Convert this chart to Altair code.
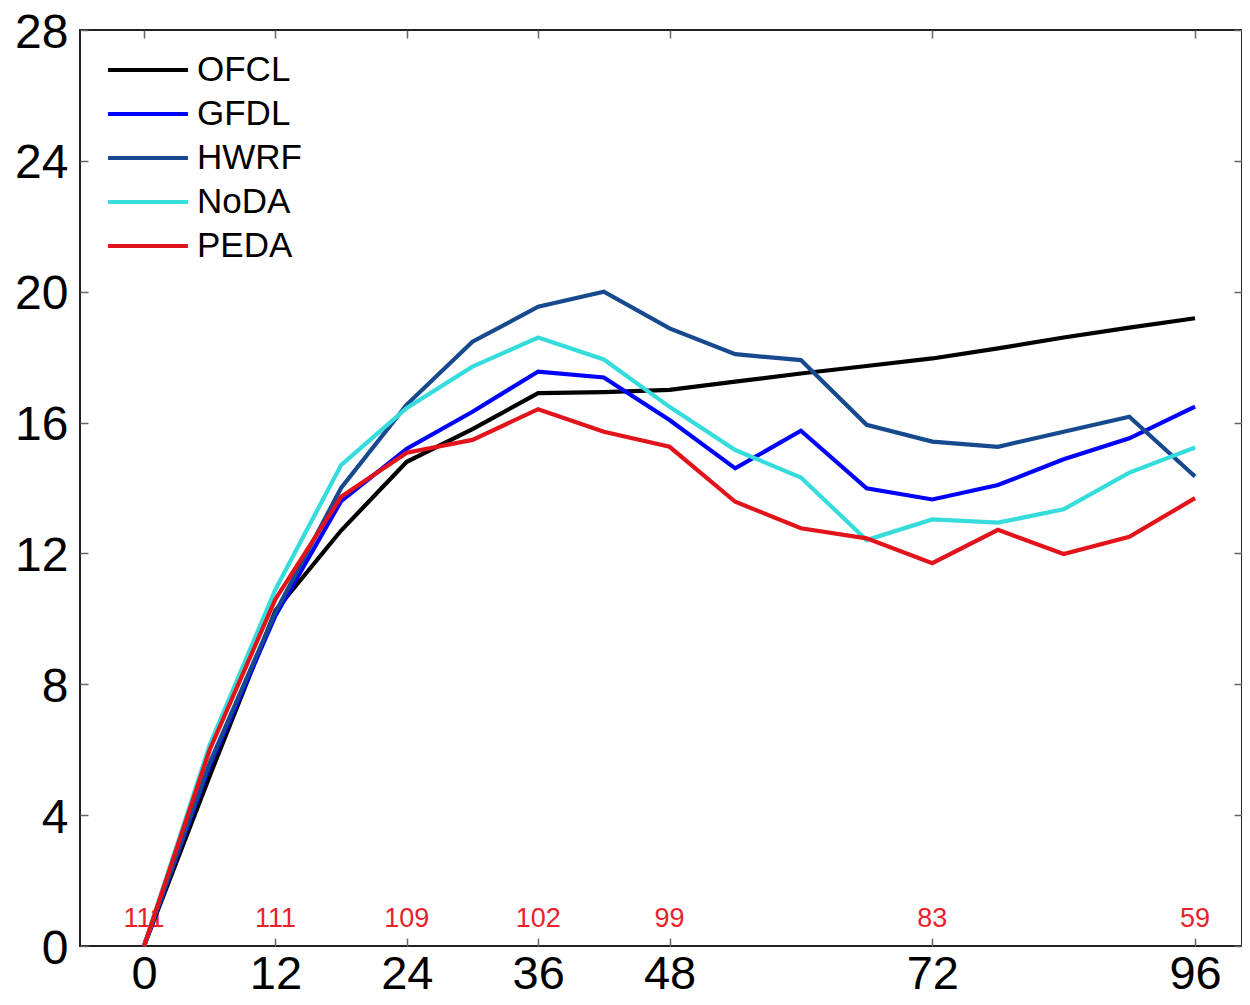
import altair as alt
import pandas as pd

# ---- data ----
hours = [0, 6, 12, 18, 24, 30, 36, 42, 48, 54, 60, 66, 72, 78, 84, 90, 96]
series_names = ["OFCL", "GFDL", "HWRF", "NoDA", "PEDA"]
series_colors = ["#000000", "#0000ff", "#17498f", "#36dcdc", "#e2131b"]

ofcl = [0, 5.2, 10.25, 12.7, 14.8, 15.8, 16.9, 16.93, 17.0, 17.25, 17.5, 17.73, 17.96, 18.27, 18.6, 18.9, 19.19]
gfdl = [0, 5.5, 10.1, 13.6, 15.2, 16.33, 17.56, 17.38, 16.08, 14.6, 15.75, 13.99, 13.65, 14.09, 14.88, 15.52, 16.49]
hwrf = [0, 5.6, 10.2, 14.0, 16.55, 18.47, 19.54, 20.0, 18.88, 18.09, 17.91, 15.93, 15.42, 15.26, 15.72, 16.18, 14.35]
noda = [0, 6.15, 10.9, 14.7, 16.45, 17.71, 18.6, 17.93, 16.48, 15.16, 14.32, 12.41, 13.04, 12.94, 13.35, 14.47, 15.24]
peda = [0, 6.0, 10.6, 13.73, 15.08, 15.47, 16.41, 15.72, 15.26, 13.58, 12.77, 12.46, 11.7, 12.72, 11.98, 12.51, 13.69]

count_hours = [0, 12, 24, 36, 48, 72, 96]
counts = [111, 111, 109, 102, 99, 83, 59]

x_ticks = [0, 12, 24, 36, 48, 72, 96]
y_ticks = [0, 4, 8, 12, 16, 20, 24, 28]

# ---- tables ----
rows = []
for name, vals in zip(series_names, [ofcl, gfdl, hwrf, noda, peda]):
    for h, v in zip(hours, vals):
        rows.append({"hour": h, "value": v, "model": name})
df = pd.DataFrame(rows)
count_df = pd.DataFrame({"hour": count_hours, "n": counts})
legend_df = pd.DataFrame({"model": series_names})

FONT = "Liberation Sans"
W, H = 1162, 916
xscale = alt.Scale(domain=[-5.85, 100.29], nice=False, zero=False)
yscale = alt.Scale(domain=[0, 28], nice=False, zero=False)
color = alt.Color("model:N", scale=alt.Scale(domain=series_names, range=series_colors), legend=None)

label_x_axis = alt.Axis(orient="bottom", values=x_ticks, labelFontSize=47, labelFont=FONT,
                        labelColor="black", ticks=False, domain=False, grid=False,
                        labelPadding=5, title=None)
label_y_axis = alt.Axis(orient="left", values=y_ticks, labelFontSize=48, labelFont=FONT,
                        labelColor="black", ticks=False, domain=False, grid=False,
                        labelPadding=12, labelOffset=3, title=None)


def tick_axis(orient, vals):
    return alt.Axis(orient=orient, values=vals, labels=False, domain=False, grid=False,
                    ticks=True, tickSize=8, tickColor="#666666", tickWidth=1.5,
                    offset=-8, title=None)


# count labels (drawn under lines)
count_layer = alt.Chart(count_df).mark_text(
    fontSize=27, font=FONT, color="#e8222b", baseline="alphabetic", dy=-19
).encode(
    x=alt.X("hour:Q", scale=xscale, axis=None),
    y=alt.YDatum(0, scale=yscale, axis=None),
    text="n:Q",
)

lines = alt.Chart(df).mark_line(strokeWidth=4.2, strokeJoin="miter").encode(
    x=alt.X("hour:Q", scale=xscale, axis=label_x_axis),
    y=alt.Y("value:Q", scale=yscale, axis=label_y_axis),
    color=color,
    detail="model:N",
)

ticks_bl = alt.Chart(df).mark_point(opacity=0).encode(
    x=alt.X("hour:Q", scale=xscale, axis=tick_axis("bottom", x_ticks)),
    y=alt.Y("value:Q", scale=yscale, axis=tick_axis("left", y_ticks)),
)
ticks_tr = alt.Chart(df).mark_point(opacity=0).encode(
    x=alt.X("hour:Q", scale=xscale, axis=tick_axis("top", x_ticks)),
    y=alt.Y("value:Q", scale=yscale, axis=tick_axis("right", y_ticks)),
)

legend_y = alt.Y("model:N", scale=alt.Scale(type="point", domain=series_names, range=[40, 216], padding=0),
                 axis=None)
legend_lines = alt.Chart(legend_df).mark_rule(strokeWidth=4.2).encode(
    x=alt.value(28), x2=alt.value(108), y=legend_y, color=color,
)
legend_text = alt.Chart(legend_df).mark_text(
    align="left", baseline="middle", fontSize=35, font=FONT, color="black"
).encode(
    x=alt.value(117), y=legend_y, text="model:N",
)

chart = alt.layer(
    count_layer, ticks_bl, ticks_tr, lines, legend_lines, legend_text
).resolve_scale(
    y="independent"
).resolve_axis(
    x="independent", y="independent"
).properties(
    width=W, height=H,
    background="white",
    autosize=alt.AutoSizeParams(type="none"),
    padding={"left": 72, "top": 22, "right": 0, "bottom": 51},
).configure_view(
    stroke="#222222", strokeWidth=2
)

chart.save("out.html", embed_options={"renderer": "svg", "actions": False})
